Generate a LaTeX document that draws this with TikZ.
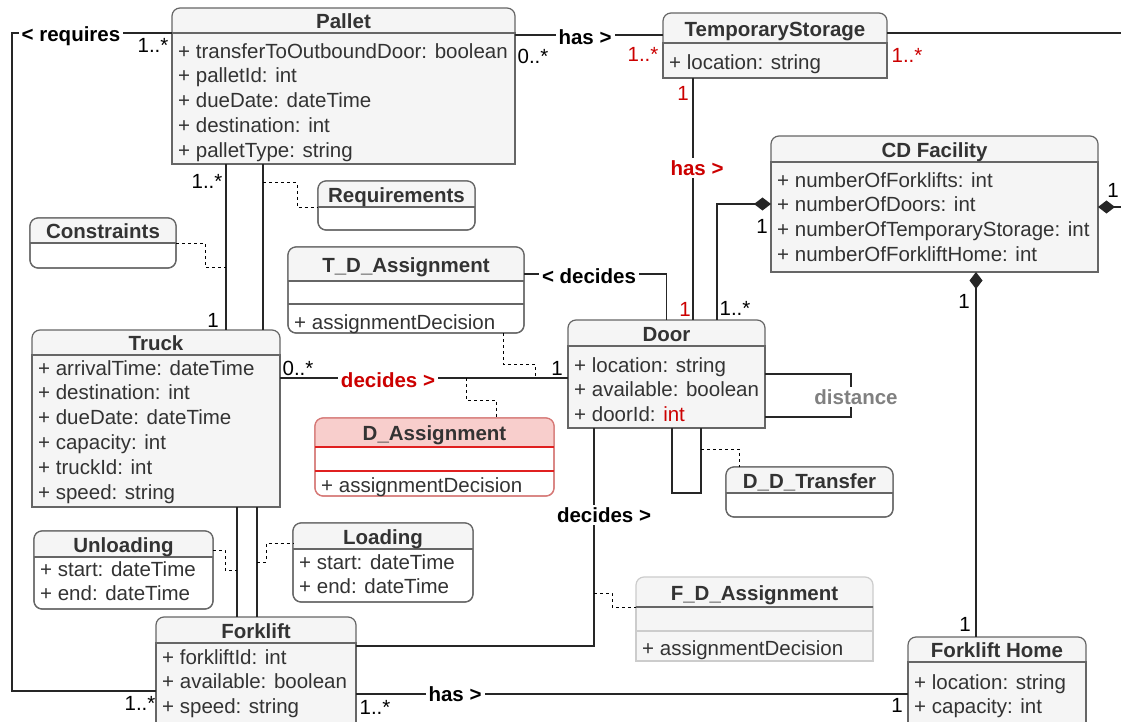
\documentclass[tikz,border=0pt]{standalone}
\usepackage{fontspec}
\setmainfont{Liberation Sans}
\usepackage{tikz}
\usetikzlibrary{arrows.meta,positioning}
\usepackage{xcolor}
\definecolor{cdgray}{RGB}{245,245,245}
\definecolor{cdborder}{RGB}{102,102,102}
\definecolor{cdtext}{RGB}{51,51,51}
\definecolor{cdred}{RGB}{204,0,0}
\definecolor{cdpink}{RGB}{248,206,204}
\definecolor{cdpinkline}{RGB}{214,120,118}
\definecolor{cdsep}{RGB}{224,32,32}
\definecolor{cdlight}{RGB}{204,204,204}
\definecolor{cdlabel}{RGB}{128,128,128}
\newcommand{\attrfont}{\fontsize{20.5}{24.8}\selectfont}
\newcommand{\titlefont}{\fontsize{20.5}{24.8}\selectfont\bfseries}
\tikzstyle{classline} = [draw=cdborder, line width=1.2pt]
\tikzstyle{headline} = [classline]
\tikzstyle{headfill} = [fill=cdgray]
\tikzstyle{bodyfill} = [fill=cdgray]
\tikzstyle{classframe} = [rectangle, rounded corners=8pt, outer sep=0pt, inner sep=0pt, classline]
\tikzstyle{classtitle} = [font=\titlefont, text=cdtext, text height=14.5pt, text depth=0pt, inner sep=0pt]
\tikzstyle{attrs} = [font=\attrfont, text=cdtext, align=left, anchor=north west, inner sep=0pt]
\tikzstyle{assoc} = [draw=black!85, line width=1.3pt]
\tikzstyle{comp} = [assoc, {Diamond[length=17pt, width=13pt]}-]
\tikzstyle{assocclass} = [draw=black, line width=1pt, dash pattern=on 3pt off 3pt]
\tikzstyle{rel} = [font=\titlefont, fill=white, text height=14.5pt, text depth=0pt, inner sep=3pt]
\tikzstyle{mult} = [font=\attrfont, inner sep=0pt]

% class box with square bottom corners: [options]{name}{top left}{width}{height}{header}{title}
\newcommand{\umlclass}[7][]{%
  \begin{scope}[#1]
    \node[classframe, headfill, anchor=north west, minimum width=#4pt, minimum height=#5pt] (#2) at (#3) {};
    \draw[classline, bodyfill] ([yshift=-#6pt]#2.north west) rectangle (#2.south east);
    \node[classtitle] (#2-title) at ([yshift=-#6pt/2-1pt]#2.north) {#7};
  \end{scope}}

% class box with all corners rounded and a white body
\newcommand{\umlnote}[7][]{%
  \begin{scope}[#1]
    \node[classframe, fill=white, anchor=north west, minimum width=#4pt, minimum height=#5pt] (#2) at (#3) {};
    \begin{scope}
      \clip[rounded corners=8pt] (#2.north west) rectangle (#2.south east);
      \fill[headfill] (#2.north west) rectangle ([yshift=-#6pt]#2.north east);
    \end{scope}
    \draw[classline, rounded corners=8pt] (#2.north west) rectangle (#2.south east);
    \draw[headline] ([yshift=-#6pt]#2.north west) -- ([yshift=-#6pt]#2.north east);
    \node[classtitle] (#2-title) at ([yshift=-#6pt/2-1pt]#2.north) {#7};
  \end{scope}}

\begin{document}
\begin{tikzpicture}[x=1pt, y=-1pt]
    \useasboundingbox (0, 0) rectangle (1121, 722);
    \clip (0, 0) rectangle (1121, 722);
    \fill[white] (0, 0) rectangle (1121, 722);

    % Classes
    \umlclass{pallet}{172, 8}{343}{156}{25}{Pallet}
    \node[attrs] (pallet-attrs) at (178, 40.5) {\strut+ transferToOutboundDoor: boolean\\+ palletId: int\\+ dueDate: dateTime\\+ destination: int\\+ palletType: string\strut};

    \umlclass{storage}{663, 13}{224}{65}{30}{TemporaryStorage}
    \node[attrs] (storage-attrs) at (669, 51.5) {\strut+ location: string\strut};

    \umlclass{facility}{771, 136}{327}{136}{26}{CD Facility}
    \node[attrs] (facility-attrs) at (777, 169.5) {\strut+ numberOfForklifts: int\\+ numberOfDoors: int\\+ numberOfTemporaryStorage: int\\+ numberOfForkliftHome: int\strut};

    \umlnote{requirements}{318, 181}{157}{49}{26}{Requirements}
    \umlnote{constraints}{30, 218}{146}{50}{25}{Constraints}

    \umlnote{tdassign}{288, 247}{236}{86}{34}{T\_D\_Assignment}
    \draw[classline] ([yshift=-57pt]tdassign.north west) -- ([yshift=-57pt]tdassign.north east);
    \node[attrs] (tdassign-attrs) at (294, 311.5) {\strut+ assignmentDecision\strut};

    \umlclass{truck}{32, 330}{248}{177}{25}{Truck}
    \node[attrs] (truck-attrs) at (38, 357.5) {\strut+ arrivalTime: dateTime\\+ destination: int\\+ dueDate: dateTime\\+ capacity: int\\+ truckId: int\\+ speed: string\strut};

    \umlclass{door}{568, 320}{197}{108}{26}{Door}
    \node[attrs] (door-attrs) at (574, 354.5) {\strut+ location: string\\+ available: boolean\\+ doorId: \textcolor{cdred}{int}\strut};

    \umlnote[headfill/.style={fill=cdpink}, classline/.style={draw=cdpinkline, line width=1.2pt}, headline/.style={draw=cdsep, line width=1.2pt}]{dassign}{315, 418}{239}{78}{29}{D\_Assignment}
    \draw[draw=cdsep, line width=1.2pt] ([yshift=-53pt]dassign.north west) -- ([yshift=-53pt]dassign.north east);
    \node[attrs] (dassign-attrs) at (321, 474.5) {\strut+ assignmentDecision\strut};

    \umlnote{ddtransfer}{726, 467}{167}{50}{26}{D\_D\_Transfer}

    \umlnote{unloading}{34, 531}{179}{78}{26}{Unloading}
    \node[attrs] (unloading-attrs) at (40, 558.5) {\strut+ start: dateTime\\+ end: dateTime\strut};

    \umlnote{loading}{293, 523}{180}{79}{26}{Loading}
    \node[attrs] (loading-attrs) at (299, 551.5) {\strut+ start: dateTime\\+ end: dateTime\strut};

    \umlclass{forklift}{156, 617}{200}{130}{26}{Forklift}
    \node[attrs] (forklift-attrs) at (162, 646.5) {\strut+ forkliftId: int\\+ available: boolean\\+ speed: string\strut};

    \umlclass[classline/.style={draw=cdlight, line width=1.2pt}]{fdassign}{636, 577}{237}{84}{30}{F\_D\_Assignment}
    \draw[draw=cdborder, line width=1.2pt] ([yshift=-30pt]fdassign.north west) -- ([yshift=-30pt]fdassign.north east);
    \draw[draw=cdlight, line width=1.2pt] ([yshift=-54pt]fdassign.north west) -- ([yshift=-54pt]fdassign.north east);
    \node[attrs] (fdassign-attrs) at (642, 637.5) {\strut+ assignmentDecision\strut};

    \umlclass{home}{908, 637}{178}{110}{25}{Forklift Home}
    \node[attrs] (home-attrs) at (914, 671.5) {\strut+ location: string\\+ capacity: int\strut};

    % Associations
    \coordinate (rqcorner) at (12, 33);
    \coordinate (tsedge) at (1121, 33);
    \coordinate (fcedge) at (1121, 207);
    \draw[assoc] ([yshift=-25pt]pallet.north west) -- (rqcorner) |- ([yshift=-74pt]forklift.north west);
    \draw[assoc] ([yshift=-27pt]pallet.north east) -- ([yshift=-27pt]pallet.north east -| storage.west);
    \draw[assoc] ([yshift=-20pt]storage.north east) -- (tsedge);
    \draw[assoc] ([xshift=30pt]storage.south west) -- ([xshift=30pt]storage.south west |- door.north);
    \draw[assoc] ([yshift=-27pt]tdassign.north east) -| (door.north);
    \draw[comp] (facility.west) -| ([xshift=149pt]door.north west);
    \draw[comp] ([yshift=-3pt]facility.east) -- (fcedge);
    \draw[comp] ([xshift=41.5pt]facility.south) -- ([xshift=41.5pt]facility.south |- home.north);
    \draw[assoc] ([yshift=-48pt]truck.north east) -- ([yshift=-48pt]truck.north east -| door.west);
    \draw[assoc] ([xshift=54pt]pallet.south west) -- ([xshift=54pt]pallet.south west |- truck.north);
    \draw[assoc] ([xshift=91pt]pallet.south west) -- ([xshift=91pt]pallet.south west |- truck.north);
    \draw[assoc] ([xshift=205pt]truck.south west) -- ([xshift=205pt]truck.south west |- forklift.north);
    \draw[assoc] ([xshift=225pt]truck.south west) -- ([xshift=225pt]truck.south west |- forklift.north);
    \draw[assoc] ([yshift=-29pt]forklift.north east) -| ([xshift=26pt]door.south west);
    \draw[assoc] ([yshift=-77pt]forklift.north east) -- ([yshift=-77pt]forklift.north east -| home.west);
    \draw[assoc] (door.east) -- ++(86, 0) |- ([yshift=-43pt]door.east);
    \draw[assoc] ([xshift=104pt]door.south west) -- ++(0, 65) -| ([xshift=133pt]door.south west);

    % Association classes
    \coordinate (cjoin) at (226, 267);
    \coordinate (rjoin) at (263, 183);
    \coordinate (tdjoin) at (535, 378);
    \coordinate (dajoin) at (466, 378);
    \coordinate (ujoin) at (237, 570);
    \coordinate (ljoin) at (257, 562);
    \coordinate (fjoin) at (594, 593);
    \coordinate (djoin) at (701, 449);
    \draw[assocclass] (constraints.east) -- ++(29, 0) |- (cjoin);
    \draw[assocclass] (rjoin) -- ++(34, 0) |- ([yshift=-2pt]requirements.west);
    \draw[assocclass] ([xshift=-21pt]tdassign.south east) -- ++(0, 31) -| (tdjoin);
    \draw[assocclass] (dajoin) -- ++(0, 22) -| ([xshift=62pt]dassign.north);
    \draw[assocclass] ([yshift=20pt]unloading.east) -- ++(12, 0) |- (ujoin);
    \draw[assocclass] (ljoin) -- ++(9, 0) |- ([yshift=19pt]loading.west);
    \draw[assocclass] (fjoin) -- ++(18, 0) |- ([yshift=12pt]fdassign.west);
    \draw[assocclass] (djoin) -| ([xshift=13pt]ddtransfer.north west);

    % Labels
    \node[rel] (requires-label) at (71, 34) {< requires};
    \node[rel] (has-storage-label) at (585, 37) {has >};
    \node[rel, text=cdred] (has-door-label) at (697, 168) {has >};
    \node[rel] (decides-td-label) at (589, 276) {< decides};
    \node[rel, text=cdred] (decides-truck-label) at (388, 380) {decides >};
    \node[rel] (decides-forklift-label) at (604, 515) {decides >};
    \node[rel] (has-home-label) at (455, 694) {has >};
    \node[rel, text=cdlabel] (distance-label) at (856, 397) {distance};

    % Multiplicities
    \node[mult] (requires-m1) at (153, 45) {1..*};
    \node[mult] (requires-m2) at (140, 703) {1..*};
    \node[mult] (has-storage-m1) at (533, 56) {0..*};
    \node[mult, text=cdred] (has-storage-m2) at (643, 54) {1..*};
    \node[mult, text=cdred] (storage-edge-m) at (907, 55) {1..*};
    \node[mult, text=cdred] (has-door-m1) at (683, 93) {1};
    \node[mult, text=cdred] (has-door-m2) at (685, 309) {1};
    \node[mult] (facility-door-m1) at (762, 226) {1};
    \node[mult] (facility-door-m2) at (735, 308) {1..*};
    \node[mult] (facility-edge-m) at (1113, 190) {1};
    \node[mult] (facility-home-m1) at (964, 301) {1};
    \node[mult] (facility-home-m2) at (965, 624) {1};
    \node[mult] (truck-door-m1) at (298, 368) {0..*};
    \node[mult] (truck-door-m2) at (557, 368) {1};
    \node[mult] (pallet-truck-m1) at (207, 181) {1..*};
    \node[mult] (pallet-truck-m2) at (213, 320) {1};
    \node[mult] (forklift-home-m1) at (375, 707) {1..*};
    \node[mult] (forklift-home-m2) at (897, 705) {1};
\end{tikzpicture}
\end{document}
